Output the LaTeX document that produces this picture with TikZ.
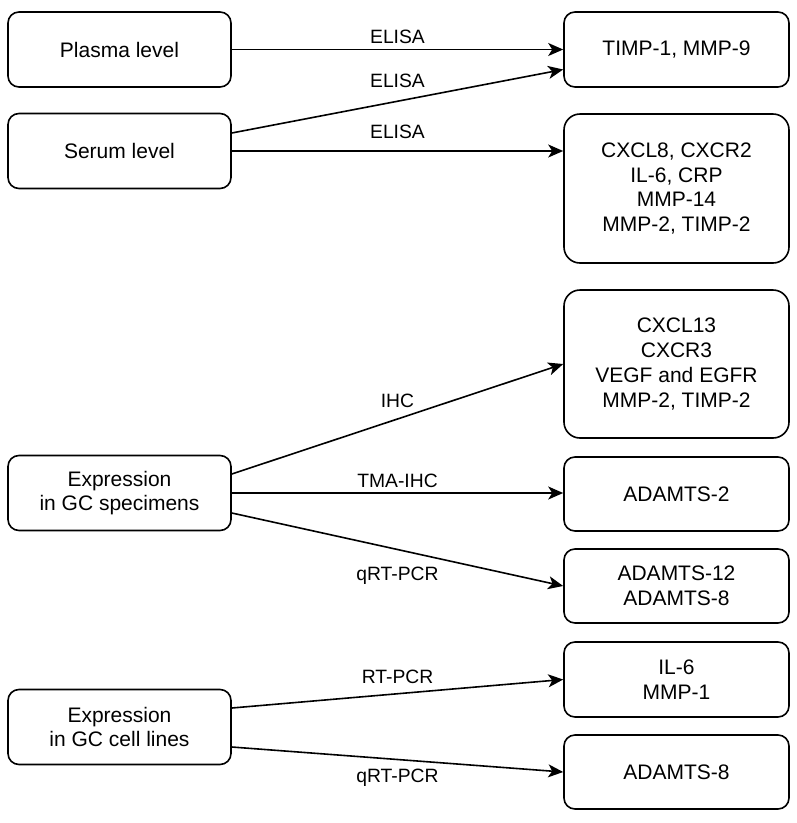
\documentclass[tikz,border=0pt]{standalone}
\usepackage{fontspec}
\setmainfont{Liberation Sans}
\usetikzlibrary{calc, arrows.meta}

\begin{document}
\begin{tikzpicture}[x=1pt,y=-1pt,
            box/.style={draw,line width=1.6pt,rounded corners=11pt,minimum width=223pt,minimum height=75pt,inner sep=0pt,align=center,font=\fontsize{21}{24.7}\selectfont},
            rbox/.style={box,minimum width=225pt},
            tallbox/.style={rbox,rounded corners=16pt,minimum height=149pt},
            link/.style={-{Stealth[length=15pt,width=13pt,inset=4pt]},line width=1.6pt},
            lbl/.style={font=\fontsize{19.3}{22}\selectfont,inner sep=0pt,midway}]
            \useasboundingbox (0,0) rectangle (797,823);
            \node[box] (plasma) at (119.5,49.5) {Plasma level};
            \node[box] (serum) at (119.5,151) {Serum level};
            \node[box] (spec) at (119.5,493) {Expression\\in GC specimens};
            \node[box] (cells) at (119.5,727) {Expression\\in GC cell lines};
            \node[rbox] (timp) at (676.5,49.5) {TIMP-1, MMP-9};
            \node[tallbox] (cxcleight) at (676.5,188.5) {CXCL8, CXCR2\\IL-6, CRP\\MMP-14\\MMP-2, TIMP-2};
            \node[tallbox,minimum height=148pt] (cxclthirteen) at (676.5,364) {CXCL13\\CXCR3\\VEGF and EGFR\\MMP-2, TIMP-2};
            \node[rbox,minimum height=74pt] (adamtwo) at (676.5,494) {ADAMTS-2};
            \node[rbox,minimum height=74pt] (adamtwelve) at (676.5,586) {ADAMTS-12\\ADAMTS-8};
            \node[rbox] (ilsix) at (676.5,679.5) {IL-6\\MMP-1};
            \node[rbox,minimum height=74pt] (adameight) at (676.5,772) {ADAMTS-8};
            \draw[link] (plasma) -- (timp) node[lbl,yshift=13pt]{ELISA};
            \draw[link] ([yshift=18pt]serum.east) -- ([yshift=-20pt]timp.west) node[lbl,yshift=20pt]{ELISA};
            \draw[link] (serum.east) -- (serum.east -| cxcleight.west) node[lbl,yshift=19.5pt]{ELISA};
            \draw[link] ([yshift=19pt]spec.east) -- (cxclthirteen.west) node[lbl,yshift=18pt]{IHC};
            \draw[link] (spec.east) -- (spec.east -| adamtwo.west) node[lbl,yshift=12pt]{TMA-IHC};
            \draw[link] ([yshift=-20pt]spec.east) -- (adamtwelve.west) node[lbl,yshift=-26pt]{qRT-PCR};
            \draw[link] ([yshift=19pt]cells.east) -- (ilsix.west) node[lbl,yshift=17pt]{RT-PCR};
            \draw[link] ([yshift=-20pt]cells.east) -- (adameight.west) node[lbl,yshift=-18.5pt]{qRT-PCR};
        \end{tikzpicture}
\end{document}
